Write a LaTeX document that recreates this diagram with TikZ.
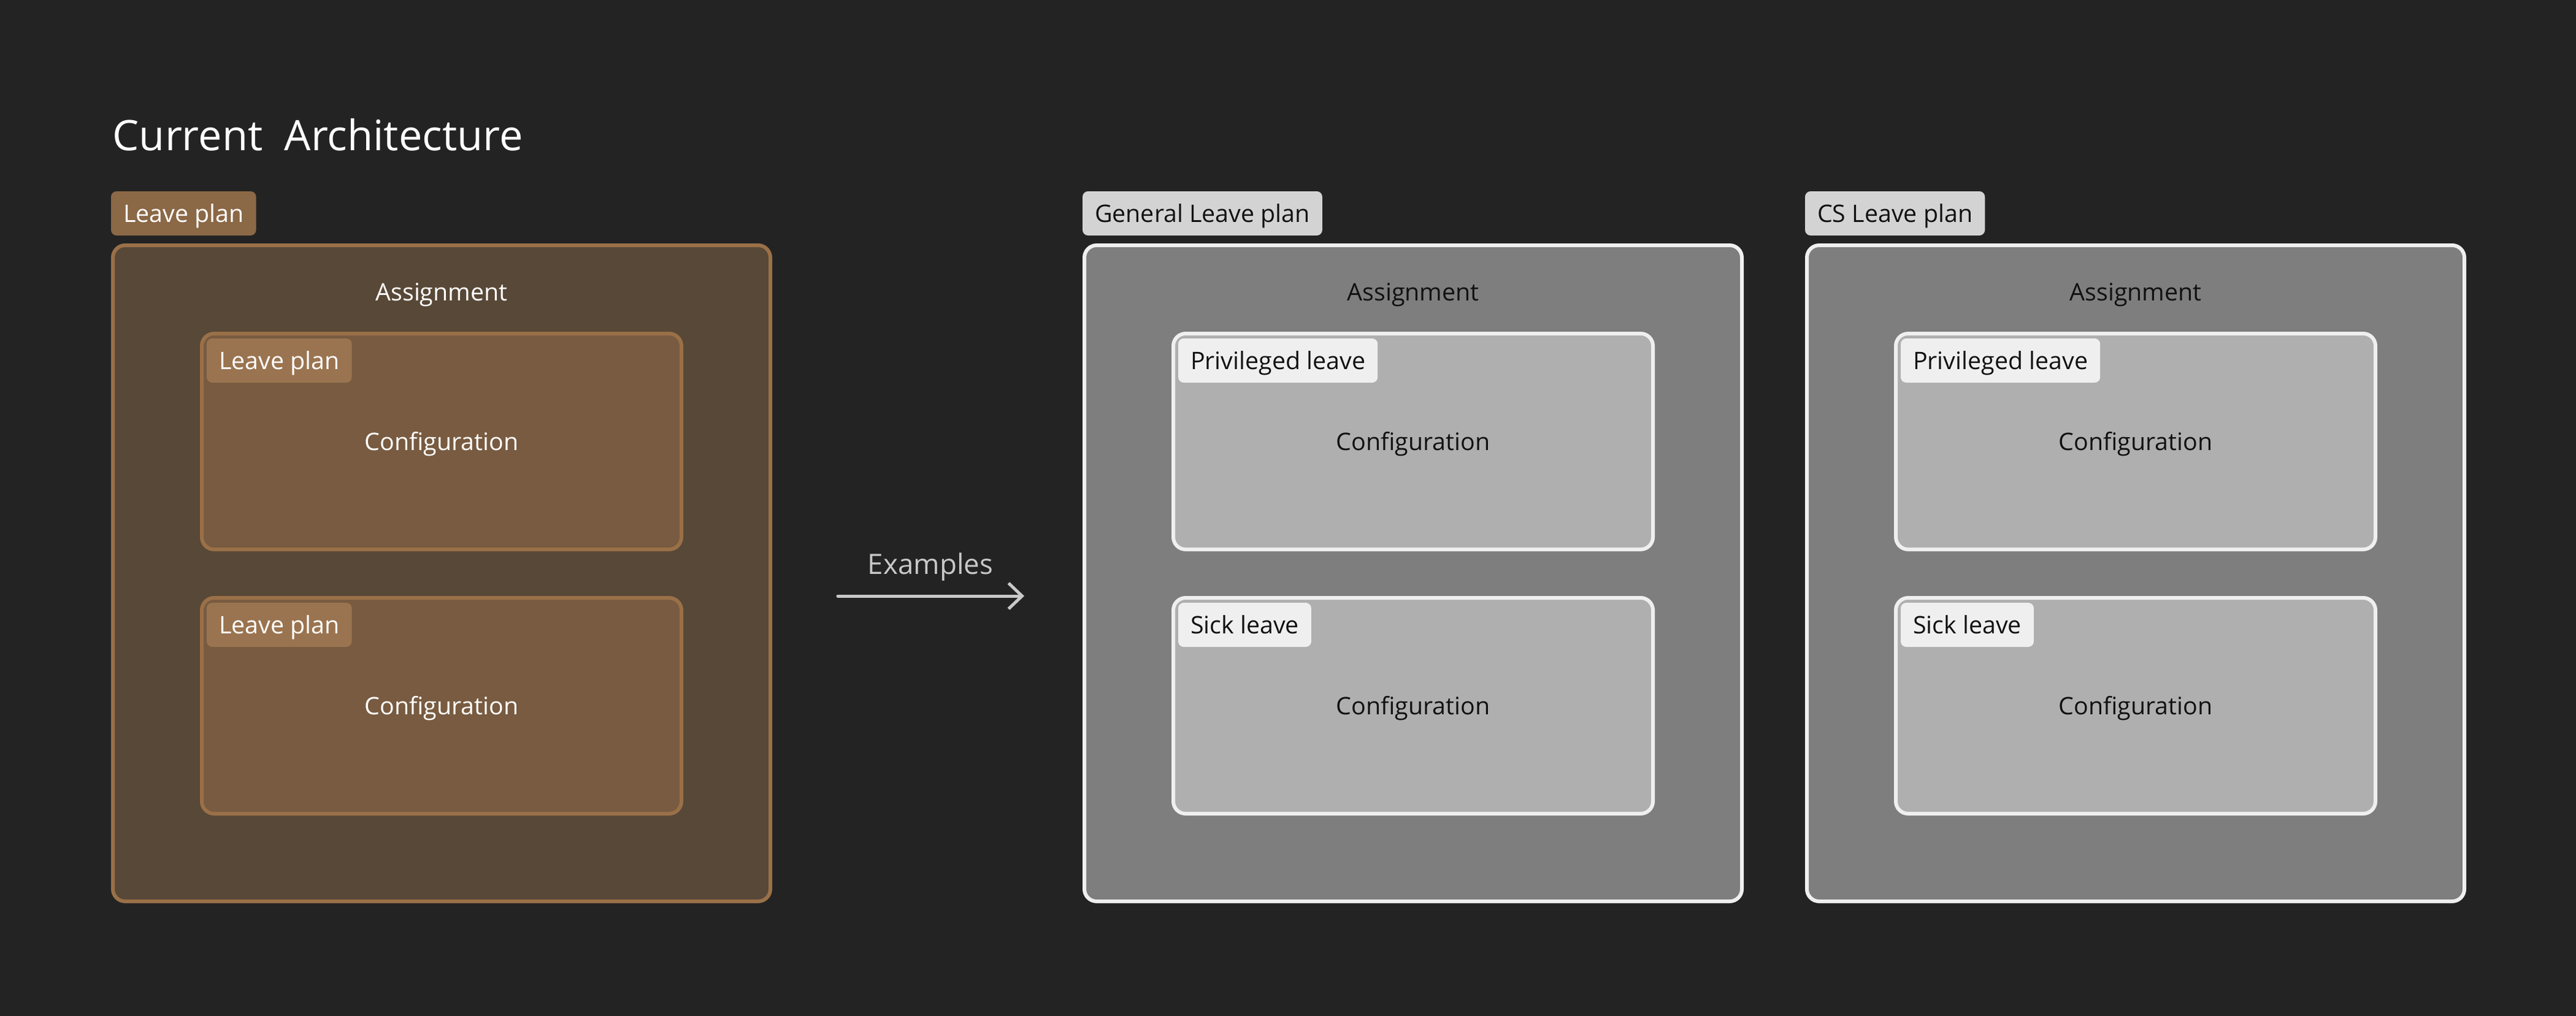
\documentclass[tikz,border=0pt]{standalone}
\usepackage{fontspec}
\setmainfont{Open Sans}
\usetikzlibrary{positioning,arrows.meta}

\definecolor{bg}{HTML}{232323}
\definecolor{brline}{HTML}{9A7048}
\definecolor{brfill}{HTML}{584837}
\definecolor{brin}{HTML}{785B40}
\definecolor{brtag}{HTML}{8B6846}
\definecolor{brtagin}{HTML}{9A7450}
\definecolor{gyline}{HTML}{EFEFEF}
\definecolor{gyfill}{HTML}{7E7E7E}
\definecolor{gyin}{HTML}{AFAFAF}
\definecolor{gytag}{HTML}{D3D3D3}
\definecolor{gytagin}{HTML}{EFEFEF}
\definecolor{ink}{HTML}{111111}
\definecolor{exgrey}{HTML}{C8C8C8}

\begin{document}
\begin{tikzpicture}[node distance=.8cm]
	\tikzstyle{panel}=[draw, line width=0.06cm, rounded corners=0.2cm, minimum width=10.72cm, minimum height=10.70cm, inner sep=0, outer sep=0]
	\tikzstyle{inbox}=[draw, line width=0.06cm, rounded corners=0.2cm, minimum width=7.82cm, minimum height=3.52cm, inner sep=0, outer sep=0]
	\tikzstyle{tag}=[rounded corners=0.09cm, inner xsep=0.2cm, inner ysep=0, text height=0.28cm, text depth=0, minimum height=0.72cm, outer sep=0, font=\fontsize{11.2}{13}\selectfont]
	\tikzstyle{txt}=[inner sep=0, text height=0.28cm, text depth=0, font=\fontsize{11.2}{13}\selectfont]
	\tikzstyle{curpanel}=[draw=brline, fill=brfill]
	\tikzstyle{curbox}=[draw=brline, fill=brin]
	\tikzstyle{curtag}=[fill=brtag, text=white]
	\tikzstyle{curtagin}=[fill=brtagin, text=white]
	\tikzstyle{expanel}=[draw=gyline, fill=gyfill]
	\tikzstyle{exbox}=[draw=gyline, fill=gyin]
	\tikzstyle{extag}=[fill=gytag, text=ink]
	\tikzstyle{extagin}=[fill=gytagin, text=ink]
	\tikzstyle{conn}=[-{Straight Barb[length=0.22cm, width=0.42cm]}, line width=0.05cm, line cap=round, draw=exgrey]

	\useasboundingbox (0,0) rectangle (42,-16.56);
	\fill[bg] (-0.2,0.2) rectangle (42.2,-16.76);

	\node (title) [anchor=base west, text=white, inner sep=0, font=\fontsize{19.5}{23}\selectfont] at (1.83,-2.45) {Current\ \ Architecture};

	% current architecture
	\node (p0) [panel, curpanel] at (7.20,-9.35) {};
	\node (t0) [tag, curtag, above right=0.16cm and -0.03cm of p0.north west] {Leave plan};
	\node (a0) [txt, text=white, below=0.615cm of p0.north] {Assignment};
	\node (b01) [inbox, curbox, below=1.44cm of p0.north] {};
	\node (l01) [tag, curtagin, below right=0.08cm and 0.08cm of b01.north west] {Leave plan};
	\node (k01) [txt, text=white] at (b01) {Configuration};
	\node (b02) [inbox, curbox, below=0.79cm of b01] {};
	\node (l02) [tag, curtagin, below right=0.08cm and 0.08cm of b02.north west] {Leave plan};
	\node (k02) [txt, text=white] at (b02) {Configuration};

	% examples
	\node (p1) [panel, expanel, right=5.12cm of p0] {};
	\node (t1) [tag, extag, above right=0.16cm and -0.03cm of p1.north west] {General Leave plan};
	\node (a1) [txt, text=ink, below=0.615cm of p1.north] {Assignment};
	\node (b11) [inbox, exbox, below=1.44cm of p1.north] {};
	\node (l11) [tag, extagin, below right=0.08cm and 0.08cm of b11.north west] {Privileged leave};
	\node (k11) [txt, text=ink] at (b11) {Configuration};
	\node (b12) [inbox, exbox, below=0.79cm of b11] {};
	\node (l12) [tag, extagin, below right=0.08cm and 0.08cm of b12.north west] {Sick leave};
	\node (k12) [txt, text=ink] at (b12) {Configuration};

	\node (p2) [panel, expanel, right=1.06cm of p1] {};
	\node (t2) [tag, extag, above right=0.16cm and -0.03cm of p2.north west] {CS Leave plan};
	\node (a2) [txt, text=ink, below=0.615cm of p2.north] {Assignment};
	\node (b21) [inbox, exbox, below=1.44cm of p2.north] {};
	\node (l21) [tag, extagin, below right=0.08cm and 0.08cm of b21.north west] {Privileged leave};
	\node (k21) [txt, text=ink] at (b21) {Configuration};
	\node (b22) [inbox, exbox, below=0.79cm of b21] {};
	\node (l22) [tag, extagin, below right=0.08cm and 0.08cm of b22.north west] {Sick leave};
	\node (k22) [txt, text=ink] at (b22) {Configuration};

	\coordinate (e0) at (13.66,-9.72);
	\coordinate (e1) at (16.70,-9.72);
	\node (ex) [anchor=base, inner sep=0, text=exgrey, font=\fontsize{13}{15}\selectfont] at (15.17,-9.36) {Examples};
	\draw[conn] (e0) -- (e1);
\end{tikzpicture}
\end{document}
